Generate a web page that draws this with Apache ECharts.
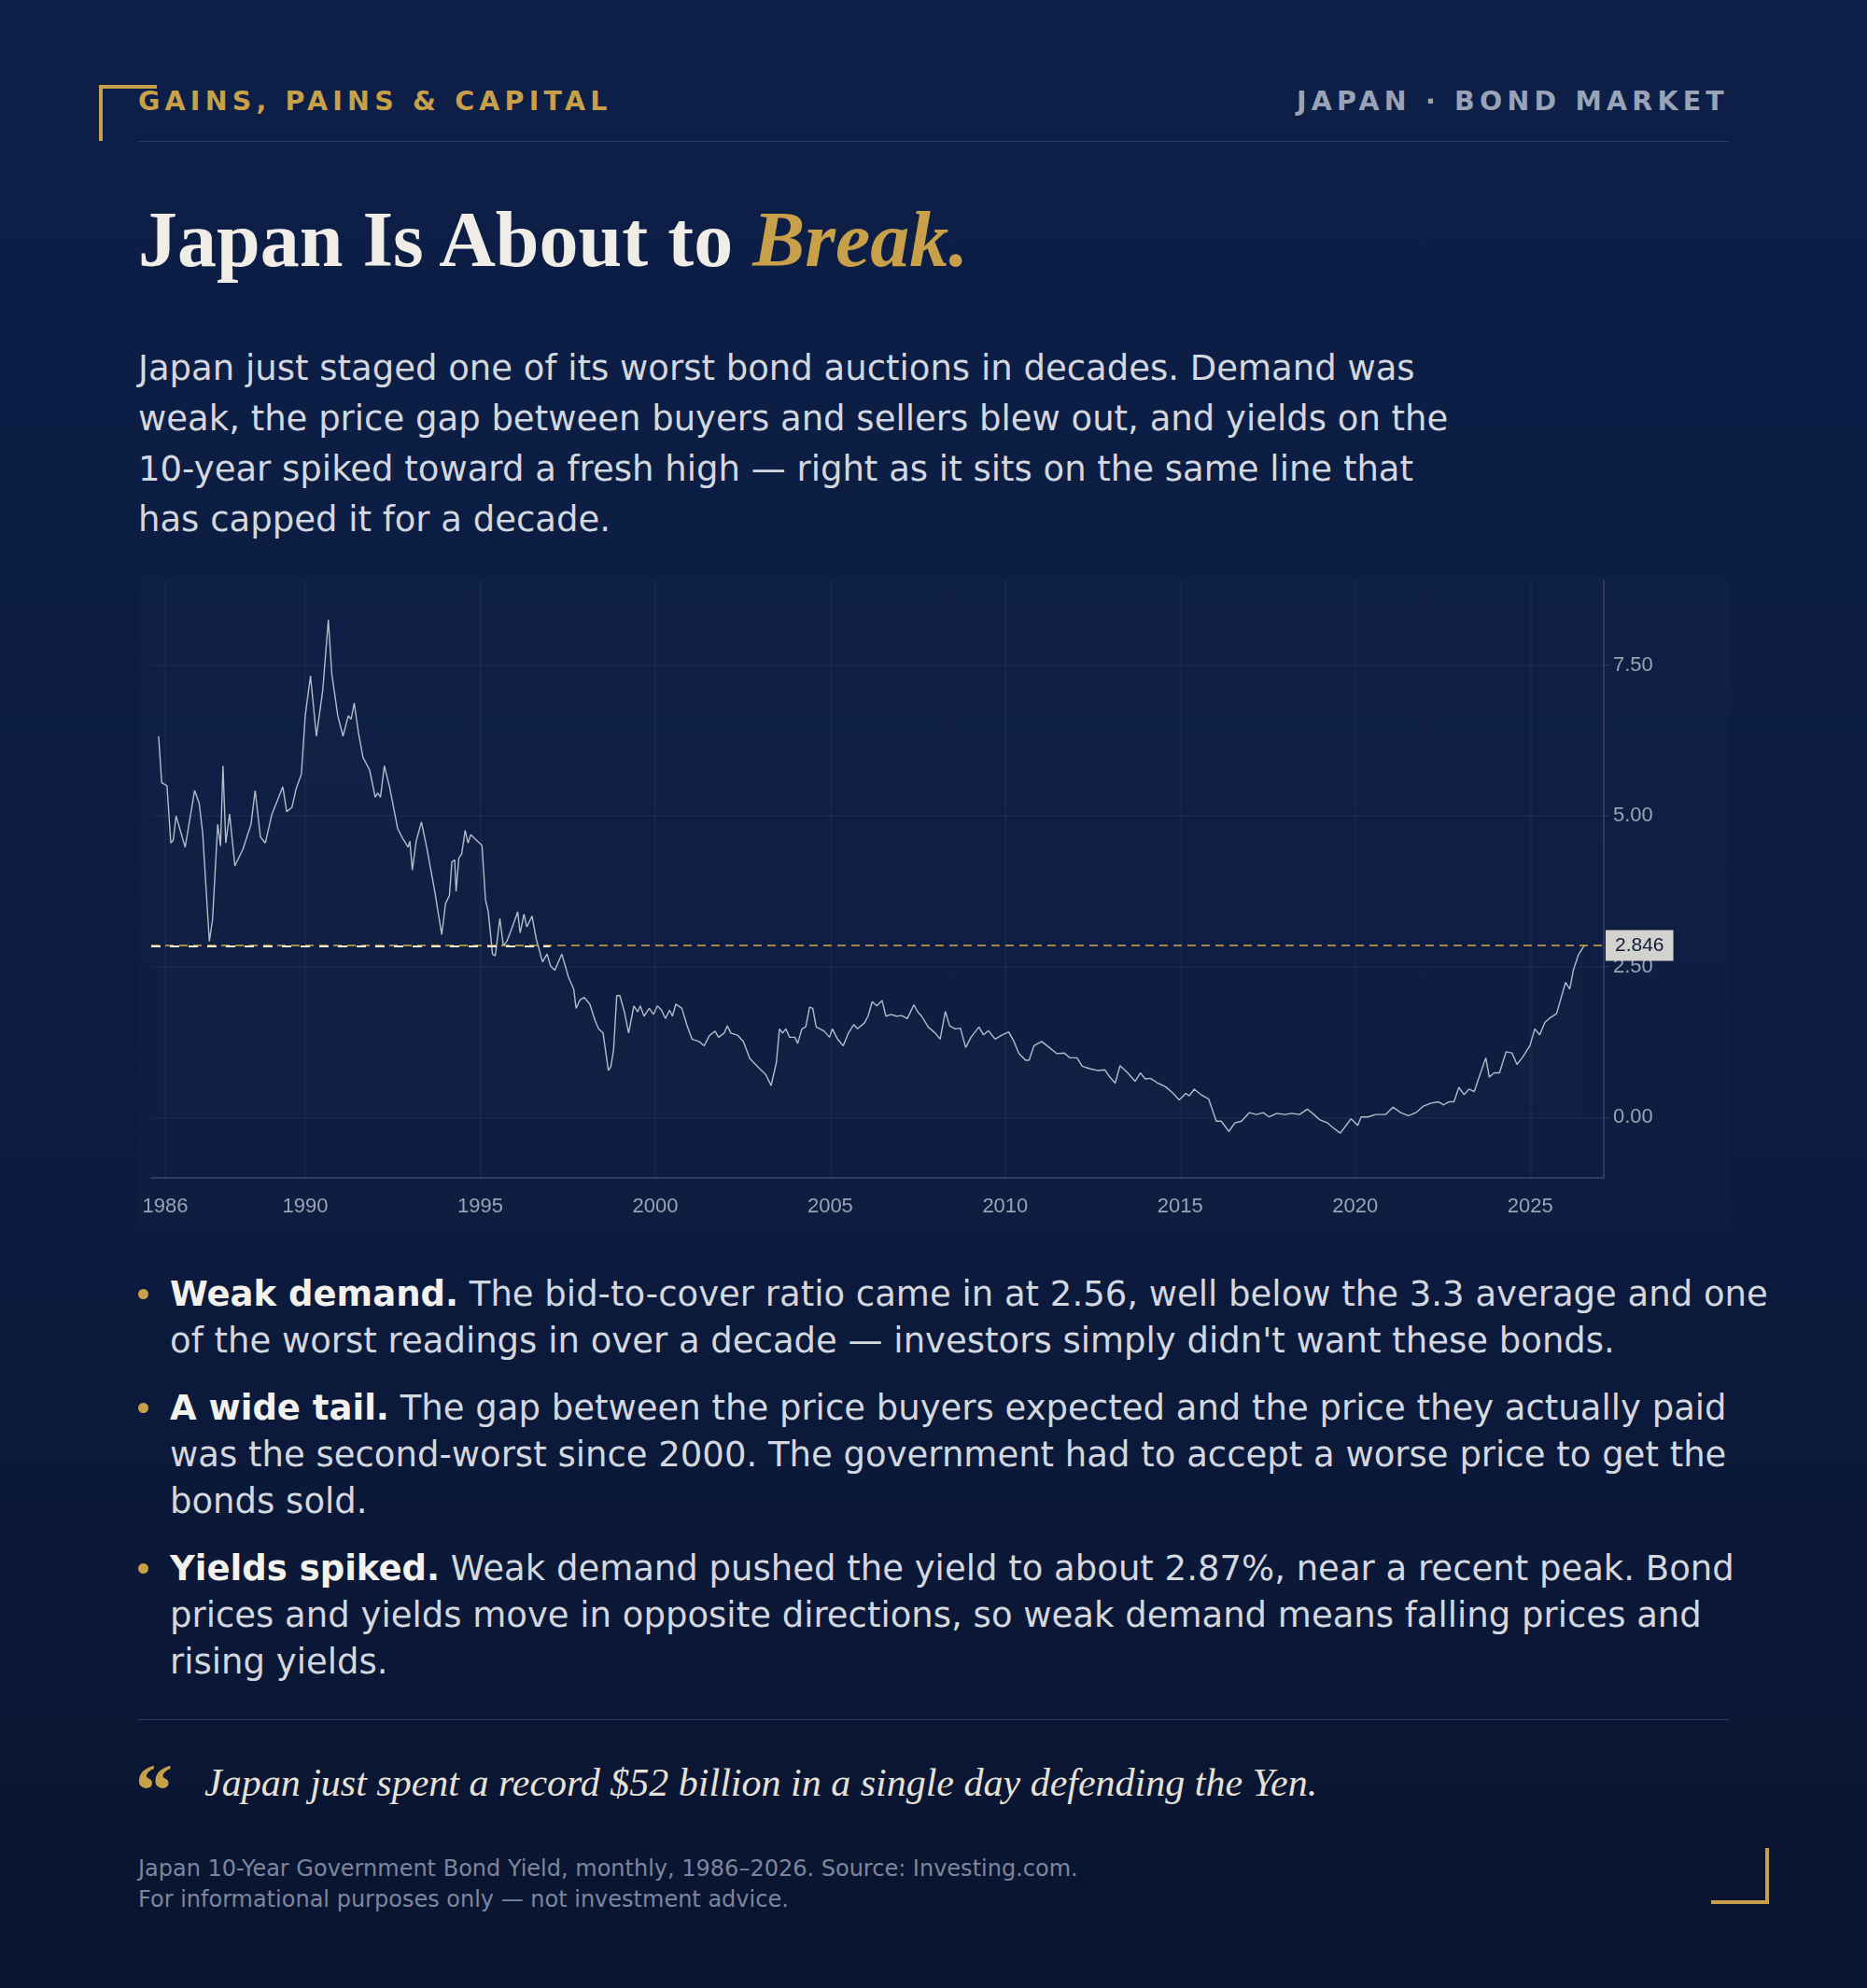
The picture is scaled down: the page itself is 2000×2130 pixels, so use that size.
<!DOCTYPE html>
<html><head><meta charset="utf-8">
<script src="https://cdn.jsdelivr.net/npm/echarts@6/dist/echarts.min.js"></script>
<style>
html,body{margin:0;padding:0;}
body{width:2000px;height:2130px;background:linear-gradient(180deg,#0d1f48 0%,#0c1c40 55%,#0a1430 100%);position:relative;overflow:hidden;font-family:"DejaVu Sans",sans-serif;}
.abs{position:absolute;}
.kick{left:148px;top:92px;font-weight:bold;font-size:28.5px;letter-spacing:5.2px;color:#c9a04a;}
.kickr{right:148px;top:92px;font-weight:bold;font-size:28.5px;letter-spacing:5.2px;color:#9aa3b5;}
.rule{left:148px;width:1704px;height:1px;background:#2a3a62;}
.title{left:148px;top:208px;font-family:"Liberation Serif",serif;font-weight:bold;font-size:84px;color:#f0ede6;white-space:nowrap;}
.title i{color:#c9a04a;}
.lede{left:148px;top:368px;width:1420px;font-size:37px;line-height:54px;color:#d3d7df;}
#panel{left:149px;top:618px;width:1703px;height:697px;background:rgba(255,255,255,0.012);}
#chart{left:149px;top:618px;width:1703px;height:697px;}
.bul{left:182px;width:1730px;font-size:37px;line-height:50px;color:#d3d7df;}
.bul b{color:#f3f1ec;}
.dot{width:11px;height:11px;border-radius:50%;background:#c9a04a;}
.q{left:145px;top:1878px;font-family:"Liberation Serif",serif;font-weight:bold;font-size:80px;color:#c9a04a;line-height:80px;}
.qt{left:219px;top:1886px;font-family:"Liberation Serif",serif;font-style:italic;font-size:42px;color:#e6e1d6;}
.foot{left:148px;top:1986px;font-size:24px;line-height:33px;color:#7d869c;}
</style></head><body>
<div class="abs" style="left:106px;top:91px;width:58px;height:56px;border-top:4px solid #c9a04a;border-left:4px solid #c9a04a;"></div>
<div class="abs" style="left:1833px;top:1980px;width:58px;height:56px;border-bottom:4px solid #c9a04a;border-right:4px solid #c9a04a;"></div>
<div class="abs kick">GAINS, PAINS &amp; CAPITAL</div>
<div class="abs kickr">JAPAN · BOND MARKET</div>
<div class="abs rule" style="top:151px"></div>
<div class="abs title">Japan Is About to <i>Break.</i></div>
<div class="abs lede">Japan just staged one of its worst bond auctions in decades. Demand was weak, the price gap between buyers and sellers blew out, and yields on the 10-year spiked toward a fresh high — right as it sits on the same line that has capped it for a decade.</div>
<div class="abs" id="panel"></div>
<div class="abs" id="chart"></div>
<div class="abs dot" style="left:148px;top:1381px"></div>
<div class="abs bul" style="top:1362px"><b>Weak demand.</b> The bid-to-cover ratio came in at 2.56, well below the 3.3 average and one of the worst readings in over a decade — investors simply didn't want these bonds.</div>
<div class="abs dot" style="left:148px;top:1503px"></div>
<div class="abs bul" style="top:1484px"><b>A wide tail.</b> The gap between the price buyers expected and the price they actually paid was the second-worst since 2000. The government had to accept a worse price to get the bonds sold.</div>
<div class="abs dot" style="left:148px;top:1675px"></div>
<div class="abs bul" style="top:1656px;width:1700px"><b>Yields spiked.</b> Weak demand pushed the yield to about 2.87%, near a recent peak. Bond prices and yields move in opposite directions, so weak demand means falling prices and rising yields.</div>
<div class="abs rule" style="top:1842px"></div>
<div class="abs q">“</div>
<div class="abs qt">Japan just spent a record $52 billion in a single day defending the Yen.</div>
<div class="abs foot">Japan 10-Year Government Bond Yield, monthly, 1986–2026. Source: Investing.com.<br>For informational purposes only — not investment advice.</div>
<script>
const years = [1985.81,1985.90,1986.05,1986.16,1986.23,1986.31,1986.57,1986.84,1986.97,1987.07,1987.26,1987.35,1987.50,1987.58,1987.65,1987.73,1987.84,1987.99,1988.22,1988.45,1988.57,1988.72,1988.86,1989.05,1989.36,1989.47,1989.62,1989.74,1989.89,1990.00,1990.15,1990.32,1990.50,1990.66,1990.76,1990.93,1991.08,1991.23,1991.31,1991.40,1991.52,1991.65,1991.84,1992.00,1992.07,1992.15,1992.26,1992.41,1992.64,1992.79,1992.94,1992.99,1993.06,1993.17,1993.32,1993.48,1993.70,1993.90,1994.01,1994.12,1994.19,1994.27,1994.31,1994.39,1994.47,1994.57,1994.65,1994.73,1994.85,1995.05,1995.15,1995.23,1995.35,1995.43,1995.56,1995.66,1995.76,1995.88,1996.07,1996.14,1996.25,1996.33,1996.48,1996.60,1996.78,1996.91,1997.01,1997.13,1997.33,1997.52,1997.67,1997.74,1997.85,1997.97,1998.13,1998.28,1998.38,1998.51,1998.66,1998.73,1998.81,1998.90,1998.99,1999.12,1999.24,1999.39,1999.50,1999.57,1999.68,1999.83,1999.95,2000.06,2000.18,2000.29,2000.41,2000.49,2000.59,2000.76,2000.90,2001.05,2001.25,2001.40,2001.55,2001.71,2001.81,2001.97,2002.06,2002.16,2002.36,2002.52,2002.70,2002.93,2003.16,2003.31,2003.46,2003.55,2003.64,2003.73,2003.84,2003.99,2004.07,2004.19,2004.30,2004.41,2004.50,2004.60,2004.71,2004.83,2004.98,2005.06,2005.21,2005.37,2005.52,2005.67,2005.78,2005.98,2006.08,2006.20,2006.33,2006.48,2006.59,2006.74,2006.89,2007.04,2007.20,2007.39,2007.50,2007.61,2007.80,2008.00,2008.14,2008.29,2008.41,2008.57,2008.72,2008.87,2009.02,2009.25,2009.38,2009.52,2009.71,2009.91,2010.10,2010.25,2010.39,2010.58,2010.68,2010.82,2011.04,2011.26,2011.47,2011.69,2011.84,2012.05,2012.20,2012.41,2012.63,2012.85,2012.99,2013.14,2013.28,2013.50,2013.71,2013.86,2014.00,2014.15,2014.36,2014.58,2014.80,2014.97,2015.16,2015.26,2015.40,2015.59,2015.81,2016.03,2016.17,2016.39,2016.56,2016.75,2016.97,2017.18,2017.37,2017.54,2017.76,2017.98,2018.19,2018.41,2018.63,2018.82,2018.99,2019.21,2019.35,2019.57,2019.74,2019.88,2020.07,2020.17,2020.36,2020.58,2020.87,2021.08,2021.30,2021.52,2021.73,2021.95,2022.17,2022.38,2022.53,2022.67,2022.82,2022.96,2023.11,2023.25,2023.40,2023.54,2023.73,2023.83,2023.97,2024.12,2024.31,2024.48,2024.62,2024.77,2024.99,2025.13,2025.27,2025.42,2025.56,2025.75,2026.01,2026.13,2026.23,2026.37,2026.52,2026.55];
const yields = [6.32,5.55,5.50,4.55,4.60,5.00,4.48,5.42,5.21,4.72,2.92,3.27,4.86,4.50,5.83,4.55,5.03,4.17,4.45,4.86,5.42,4.65,4.55,5.03,5.48,5.07,5.14,5.45,5.69,6.66,7.32,6.32,7.08,8.25,7.35,6.66,6.32,6.66,6.60,6.87,6.38,5.97,5.76,5.31,5.38,5.31,5.83,5.48,4.79,4.62,4.48,4.58,4.10,4.58,4.90,4.45,3.75,3.03,3.55,3.68,4.24,4.27,3.75,4.30,4.37,4.76,4.55,4.69,4.62,4.51,3.61,3.41,2.71,2.68,3.30,2.85,2.92,3.10,3.41,3.06,3.37,3.16,3.34,2.96,2.58,2.71,2.51,2.44,2.71,2.33,2.13,1.81,1.95,1.99,1.88,1.61,1.47,1.40,0.78,0.84,1.12,2.02,2.02,1.75,1.40,1.85,1.75,1.85,1.68,1.81,1.71,1.85,1.78,1.64,1.78,1.68,1.88,1.81,1.54,1.30,1.26,1.19,1.36,1.43,1.33,1.40,1.52,1.40,1.36,1.26,0.98,0.84,0.71,0.53,0.91,1.47,1.40,1.47,1.33,1.33,1.23,1.47,1.50,1.83,1.81,1.50,1.47,1.43,1.33,1.47,1.30,1.19,1.40,1.54,1.47,1.57,1.68,1.92,1.85,1.94,1.68,1.71,1.68,1.69,1.64,1.87,1.75,1.68,1.50,1.40,1.30,1.76,1.52,1.47,1.48,1.16,1.33,1.50,1.37,1.44,1.30,1.37,1.42,1.26,1.06,0.95,0.95,1.19,1.26,1.16,1.06,1.07,0.99,0.99,0.85,0.81,0.78,0.79,0.67,0.57,0.86,0.74,0.60,0.74,0.64,0.65,0.57,0.51,0.40,0.29,0.40,0.36,0.47,0.38,0.31,-0.06,-0.06,-0.23,-0.09,-0.06,0.08,0.05,0.08,0.01,0.07,0.05,0.07,0.05,0.14,0.05,-0.04,-0.09,-0.16,-0.26,-0.13,-0.02,-0.13,0.01,0.01,0.05,0.05,0.17,0.08,0.03,0.08,0.19,0.24,0.26,0.21,0.26,0.26,0.50,0.38,0.47,0.43,0.67,0.99,0.67,0.74,0.74,1.09,1.07,0.88,0.99,1.19,1.47,1.37,1.58,1.65,1.72,2.24,2.13,2.44,2.69,2.83,2.86];
const xTickYears = [1986,1990,1995,2000,2005,2010,2015,2020,2025];
const yTicks = [0,2.5,5,7.5];
const capLevel = 2.846;

const gridCol = 'rgba(150,170,210,0.07)';
const chart = echarts.init(document.getElementById('chart'));
chart.setOption({
  animation:false,
  grid:{left:13,right:134,top:4,bottom:53},
  xAxis:{type:'value',min:1985.6,max:2027.1,
    axisLine:{show:true,onZero:false,lineStyle:{color:'#2b3a5e',width:2}},
    axisTick:{show:false},splitLine:{show:false},
    axisLabel:{customValues:xTickYears,color:'#9aa3b5',fontSize:22,fontFamily:'Liberation Sans',margin:20,formatter:v=>String(v)}},
  yAxis:{type:'value',position:'right',min:-1,max:8.9,
    axisLine:{show:true,lineStyle:{color:'#2b3a5e',width:2}},
    axisTick:{customValues:yTicks,show:true,length:6,lineStyle:{color:'#2b3a5e'}},
    splitLine:{show:false},
    axisLabel:{customValues:yTicks,color:'#9aa3b5',fontSize:22,fontFamily:'Liberation Sans',margin:10,formatter:v=>v.toFixed(2)}},
  series:[
    {type:'line',data:[],silent:true,
     markLine:{silent:true,symbol:'none',label:{show:false},lineStyle:{color:gridCol,type:'solid',width:1.5},
       data:yTicks.map(v=>({yAxis:v})).concat(xTickYears.map(v=>({xAxis:v})))}},
    {type:'line',data:years.map((y,i)=>[y,yields[i]]),showSymbol:false,
     lineStyle:{color:'#b4bccb',width:1.4},
     areaStyle:{color:'rgba(160,180,220,0.025)'},
     markLine:{silent:true,symbol:'none',
       data:[
        {yAxis:capLevel,lineStyle:{color:'#d4a94a',type:[9,6],width:1.6},
         label:{show:true,position:'end',formatter:'2.846',color:'#0d1a38',backgroundColor:'#d2d2ce',
           fontSize:21,fontFamily:'Liberation Sans',padding:[6,10],distance:2}},
        [{coord:[1985.6,capLevel],lineStyle:{color:'#f2ecd8',type:[10,10],width:2},label:{show:false}},{coord:[1997,capLevel]}]
       ]}}
  ]
});
</script>
</body></html>
